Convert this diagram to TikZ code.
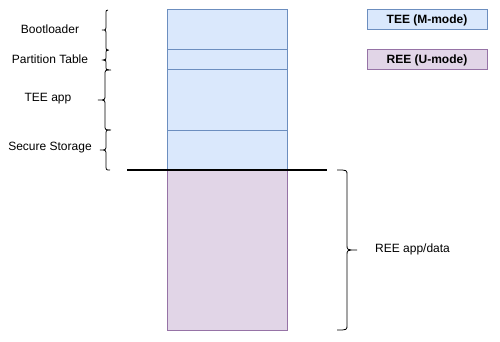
\documentclass[tikz,border=0pt]{standalone}
\usepackage{fontspec}
\setmainfont{Liberation Sans}
\definecolor{teefill}{HTML}{DAE8FC}
\definecolor{teeline}{HTML}{6C8EBF}
\definecolor{reefill}{HTML}{E1D5E7}
\definecolor{reeline}{HTML}{9673A6}
\newcommand\mybrace[5]{% xend, xspine, xtip, y1, y2
  \draw[bracestyle] (#1,#4) .. controls (#2,#4) .. (#2,{#4+5})
    -- (#2,{(#4+#5)/2-5}) .. controls (#2,{(#4+#5)/2}) .. (#3,{(#4+#5)/2})
    .. controls (#2,{(#4+#5)/2}) .. (#2,{(#4+#5)/2+5})
    -- (#2,{#5-5}) .. controls (#2,#5) .. (#1,#5);}
\begin{document}
\begin{tikzpicture}[x=1pt,y=-1pt,
  tee/.style={draw=teeline,fill=teefill,line width=1pt,minimum width=120pt,inner sep=0pt,outer sep=0pt},
  ree/.style={draw=reeline,fill=reefill,line width=1pt,minimum width=120pt,inner sep=0pt,outer sep=0pt},
  lbl/.style={font=\fontsize{12pt}{14pt}\selectfont,inner sep=0pt},
  legend/.style={minimum width=120pt,minimum height=20pt,inner sep=0pt,line width=1pt,font=\bfseries\fontsize{12pt}{14pt}\selectfont},
  bracestyle/.style={draw=black,line width=0.8pt}]
\useasboundingbox (0,0) rectangle (500,342);
\fill[white] (0,0) rectangle (500,342);
% memory column
\node[tee,minimum height=40pt] (boot) at (227,30) {};
\node[tee,minimum height=20pt] (part) at (227,60) {};
\node[tee,minimum height=60pt] (app) at (227,100) {};
\node[tee,minimum height=40pt] (sec) at (227,150) {};
\node[ree,minimum height=160pt] (ree) at (227,250) {};
% separator line
\coordinate (sepL) at (127,170);
\coordinate (sepR) at (327,170);
\draw[line width=2pt,black] (sepL) -- (sepR);
% braces
\mybrace{108}{106}{102}{10}{50}
\mybrace{109}{106}{103}{50}{70}
\mybrace{111}{105}{98}{70}{130}
\mybrace{110}{106}{100}{130}{170}
\mybrace{337}{347}{357}{170}{330}
% labels
\node[lbl] (lboot) at (50,29) {Bootloader};
\node[lbl] (lpart) at (50,59) {Partition Table};
\node[lbl] (lapp) at (48,99) {TEE app};
\node[lbl] (lsec) at (50,148) {Secure Storage};
\node[lbl,anchor=west] (lree) at (375,249) {REE app/data};
% legend
\node[legend,draw=teeline,fill=teefill] (legtee) at (427,20) {TEE (M-mode)};
\node[legend,draw=reeline,fill=reefill] (legree) at (427,60) {REE (U-mode)};
\end{tikzpicture}
\end{document}
